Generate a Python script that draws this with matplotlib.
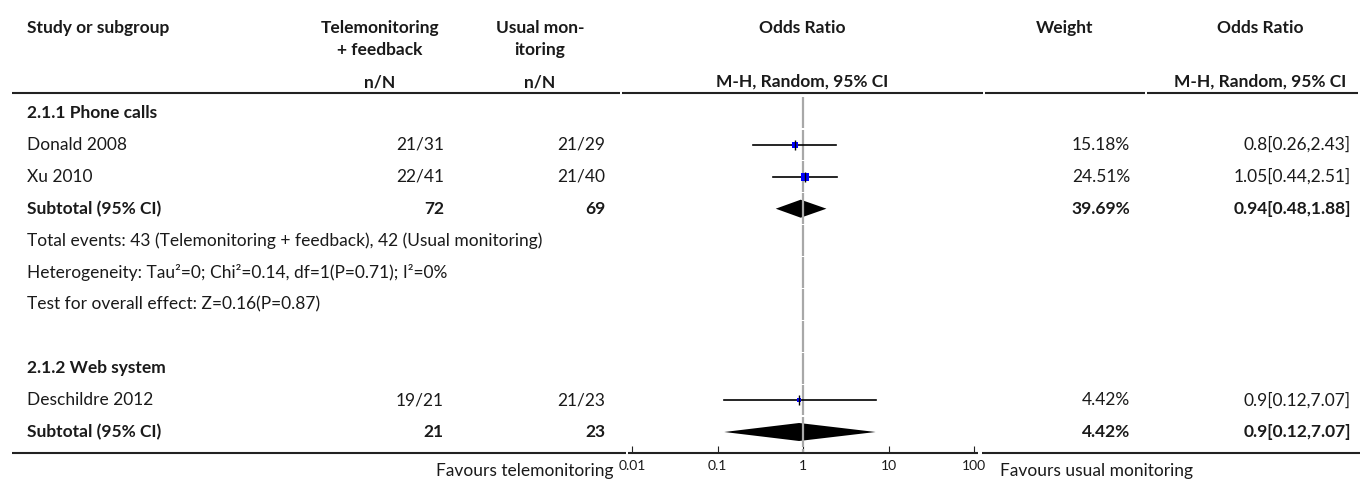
import numpy as np
import matplotlib.pyplot as plt
from matplotlib.ticker import FixedLocator, FixedFormatter, NullLocator

plt.rcParams['font.family'] = ['Lato', 'DejaVu Sans']

# ---- data ----
studies = ["Donald 2008", "Xu 2010", "Deschildre 2012"]
tele_n = [21, 22, 19]
tele_N = [31, 41, 21]
usual_n = [21, 21, 21]
usual_N = [29, 40, 23]
odds = [0.8, 1.05, 0.9]
ci_lo = [0.26, 0.44, 0.12]
ci_hi = [2.43, 2.51, 7.07]
weights = [15.18, 24.51, 4.42]

groups = ["2.1.1 Phone calls", "2.1.2 Web system"]
sub_tele = [72, 21]
sub_usual = [69, 23]
sub_odds = [0.94, 0.9]
sub_lo = [0.48, 0.12]
sub_hi = [1.88, 7.07]
sub_weight = [39.69, 4.42]

notes = ["Total events: 43 (Telemonitoring + feedback), 42 (Usual monitoring)",
         "Heterogeneity: Tau\u00b2=0; Chi\u00b2=0.14, df=1(P=0.71); I\u00b2=0%",
         "Test for overall effect: Z=0.16(P=0.87)"]

tick_vals = [0.01, 0.1, 1, 10, 100]
tick_labels = ["0.01", "0.1", "1", "10", "100"]

# ---- layout (pixels) ----
W, H = 1360, 480
fig = plt.figure(figsize=(W / 100, H / 100), dpi=100)
bg = fig.add_axes([0, 0, 1, 1])
bg.set_xlim(0, W)
bg.set_ylim(H, 0)
bg.axis('off')

txt = '#1a1a1a'
fs = 12.5
x_study, x_tele, x_usual, x_w, x_or = 27, 444, 605, 1130, 1351
line_top, line_bot = 93, 453
ax_l, ax_r = 632, 974

# header
hb = dict(fontsize=fs, fontweight='bold', color=txt, va='center')
bg.text(x_study, 28, "Study or subgroup", ha='left', **hb)
bg.text(380, 28, "Telemonitoring", ha='center', **hb)
bg.text(380, 50, "+ feedback", ha='center', **hb)
bg.text(380, 82, "n/N", ha='center', **hb)
bg.text(540, 28, "Usual mon-", ha='center', **hb)
bg.text(540, 50, "itoring", ha='center', **hb)
bg.text(540, 82, "n/N", ha='center', **hb)
bg.text(802, 28, "Odds Ratio", ha='center', **hb)
bg.text(802, 82, "M-H, Random, 95% CI", ha='center', **hb)
bg.text(1065, 28, "Weight", ha='center', **hb)
bg.text(1260, 28, "Odds Ratio", ha='center', **hb)
bg.text(1260, 82, "M-H, Random, 95% CI", ha='center', **hb)

# rule lines
for a, b in [(12, 620), (622, 983), (985, 1145), (1147, 1358)]:
    bg.plot([a, b], [line_top, line_top], color='#222222', lw=1.5, solid_capstyle='butt')
for a, b in [(12, 626), (628, 978), (982, 1360)]:
    bg.plot([a, b], [line_bot, line_bot], color='#222222', lw=1.5, solid_capstyle='butt')

# rows
pitch = 31.9
y = 113
study_rows = [[0, 1], [2]]
y_pos = []
for g in range(2):
    y_pos.append(('group', g, y)); y += pitch
    for s in study_rows[g]:
        y_pos.append(('study', s, y)); y += pitch
    y_pos.append(('sub', g, y)); y += pitch
    if g == 0:
        for k in range(3):
            y_pos.append(('note', k, y)); y += pitch
        y += pitch

reg = dict(fontsize=fs, color=txt, va='center')
bold = dict(fontsize=fs, color=txt, va='center', fontweight='bold')

fx = fig.add_axes([ax_l / W, 1 - line_bot / H, (ax_r - ax_l) / W, (line_bot - line_top) / H])
fx.set_xscale('log')
fx.set_xlim(0.01, 100)
fx.set_ylim(line_bot, line_top)
fx.patch.set_alpha(0)
for sp in fx.spines.values():
    sp.set_visible(False)
fx.yaxis.set_major_locator(NullLocator())
fx.xaxis.set_major_locator(FixedLocator(tick_vals))
fx.xaxis.set_major_formatter(FixedFormatter(tick_labels))
fx.xaxis.set_minor_locator(NullLocator())
fx.tick_params(axis='x', direction='in', length=5, width=0.8, color='#222222',
               labelsize=10, labelcolor=txt, pad=5)

# reference line at OR = 1, broken at row boundaries
bounds = [line_top + 3] + [113 + pitch * (i + 0.5) for i in range(11)] + [line_bot]
for a, b in zip(bounds[:-1], bounds[1:]):
    fx.plot([1, 1], [a + 0.6, b - 0.6], color='#a8a8a8', lw=1.6, solid_capstyle='butt')

for kind, i, yy in y_pos:
    if kind == 'group':
        bg.text(x_study, yy, groups[i], ha='left', **bold)
    elif kind == 'note':
        bg.text(x_study, yy, notes[i], ha='left', **reg)
    elif kind == 'study':
        bg.text(x_study, yy, studies[i], ha='left', **reg)
        bg.text(x_tele, yy, f"{tele_n[i]}/{tele_N[i]}", ha='right', **reg)
        bg.text(x_usual, yy, f"{usual_n[i]}/{usual_N[i]}", ha='right', **reg)
        bg.text(x_w, yy, f"{weights[i]:.2f}%", ha='right', **reg)
        bg.text(x_or, yy, f"{odds[i]:g}[{ci_lo[i]:g},{ci_hi[i]:g}]", ha='right', **reg)
        fx.plot([ci_lo[i], ci_hi[i]], [yy, yy], color='black', lw=1.2)
        sz = 6.2 * np.sqrt(weights[i] / max(weights))
        fx.plot(odds[i], yy, marker='s', ms=sz, color='#0000ff', mec='#0000ff', mew=0)
        fx.plot(odds[i], yy, marker='|', ms=6.5, color='black', mew=1.0)
    elif kind == 'sub':
        bg.text(x_study, yy, "Subtotal (95% CI)", ha='left', **bold)
        bg.text(x_tele, yy, str(sub_tele[i]), ha='right', **bold)
        bg.text(x_usual, yy, str(sub_usual[i]), ha='right', **bold)
        bg.text(x_w, yy, f"{sub_weight[i]:.2f}%", ha='right', **bold)
        bg.text(x_or, yy, f"{sub_odds[i]:g}[{sub_lo[i]:g},{sub_hi[i]:g}]", ha='right', **bold)
        fx.fill([sub_lo[i], sub_odds[i], sub_hi[i], sub_odds[i]],
                [yy, yy - 9, yy, yy + 9], color='black', lw=0)

bg.text(614, 471, "Favours telemonitoring", ha='right', fontsize=fs, color=txt, va='center')
bg.text(1000, 471, "Favours usual monitoring", ha='left', fontsize=fs, color=txt, va='center')

fig.savefig("out.png", dpi=100)
